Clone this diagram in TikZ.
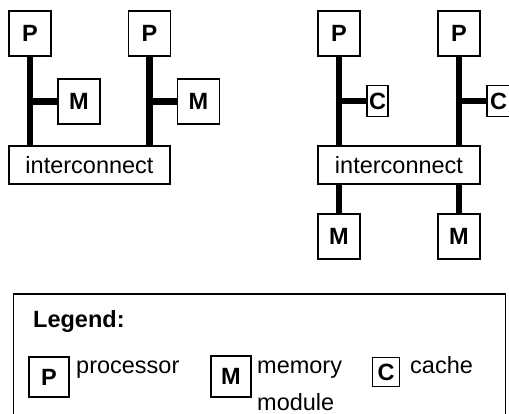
\documentclass[tikz,border=0pt]{standalone}
\usepackage{fontspec}
\setmainfont{Liberation Sans}
\begin{document}
\begin{tikzpicture}[x=1pt,y=-1pt,
  every node/.style={font=\fontsize{23.5}{27}\selectfont},
  unit/.style={draw=black, line width=1.2pt, fill=white, inner sep=0pt,
               font=\fontsize{23.5}{27}\selectfont\bfseries},
  pbox/.style={unit, minimum width=42, minimum height=45},
  cbox/.style={unit, minimum width=21, minimum height=31},
  icbox/.style={draw=black, line width=1.2pt, fill=white, inner sep=0pt,
                minimum width=161, minimum height=38},
  bus/.style={line width=6.5pt, line cap=butt},
  label/.style={anchor=base west, inner sep=0pt}]
\useasboundingbox (0,0) rectangle (509,413);

% shared-memory system: memory attached to each processor
\node[pbox] (p1) at (30,33.5) {P};
\node[pbox] (p2) at (149.5,33.5) {P};
\node[pbox] (m1) at (79,101.5) {M};
\node[pbox] (m2) at (198.5,101.5) {M};
\node[icbox] (ic1) at (89.5,165) {interconnect};
\draw[bus] (p1.south) -- (p1.south |- ic1.north);
\draw[bus] (p2.south) -- (p2.south |- ic1.north);
\draw[bus] (p1 |- m1) -- (m1.west);
\draw[bus] (p2 |- m2) -- (m2.west);

% cached processors with memory behind the interconnect
\node[pbox] (p3) at (339,33.5) {P};
\node[pbox] (p4) at (459,33.5) {P};
\node[cbox] (c1) at (377.5,101) {C};
\node[cbox, minimum width=23] (c2) at (498.5,101) {C};
\node[icbox, minimum width=162] (ic2) at (399,165) {interconnect};
\node[pbox] (m3) at (339,236.5) {M};
\node[pbox] (m4) at (459,236.5) {M};
\draw[bus] (p3.south) -- (p3.south |- ic2.north);
\draw[bus] (p4.south) -- (p4.south |- ic2.north);
\draw[bus] (p3 |- c1) -- (c1.west);
\draw[bus] (p4 |- c2) -- (c2.west);
\draw[bus] (m3.north |- ic2.south) -- (m3.north);
\draw[bus] (m4.north |- ic2.south) -- (m4.north);

% legend
\draw[line width=1.2pt] (13.5,420) -- (13.5,294) -- (505.5,294) -- (505.5,420);
\node[label, font=\fontsize{23.5}{27}\selectfont\bfseries] (lt) at (33,327) {Legend:};
\node[unit, minimum width=40, minimum height=40] (lp) at (49,377) {P};
\node[label] (lpt) at (76,373) {processor};
\node[unit, minimum width=40, minimum height=41] (lm) at (231,376.5) {M};
\node[label] (lmt1) at (257,373) {memory};
\node[label] (lmt2) at (257,410) {module};
\node[unit, minimum width=27, minimum height=29] (lc) at (386,372) {C};
\node[label] (lct) at (410,373) {cache};
\end{tikzpicture}
\end{document}
